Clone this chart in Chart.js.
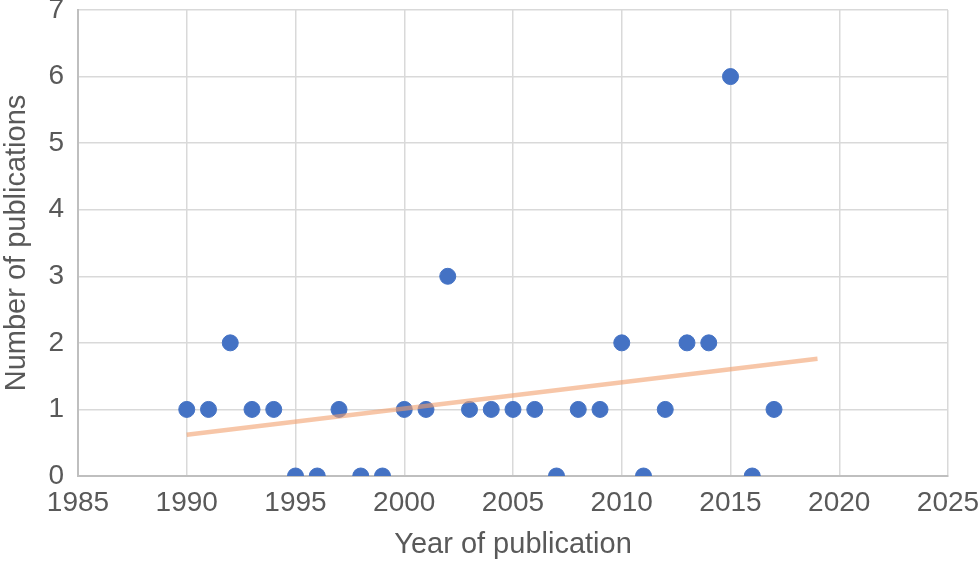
<!DOCTYPE html>
<html>
<head>
<meta charset="utf-8">
<script src="https://cdn.jsdelivr.net/npm/chart.js@4"></script>
<style>
    html, body { margin: 0; padding: 0; background: #ffffff; }
    #wrap { width: 980px; height: 562px; position: relative; }
</style>
</head>
<body>
<div id="wrap"><canvas id="pubChart" width="980" height="562"></canvas></div>
<script>
// Publications per year
const years = [1990, 1991, 1992, 1993, 1994, 1995, 1996, 1997, 1998, 1999,
    2000, 2001, 2002, 2003, 2004, 2005, 2006, 2007, 2008, 2009,
    2010, 2011, 2012, 2013, 2014, 2015, 2016, 2017];
const publications = [1, 1, 2, 1, 1, 0, 0, 1, 0, 0,
    1, 1, 3, 1, 1, 1, 1, 0, 1, 1,
    2, 0, 1, 2, 2, 6, 0, 1];

// Linear trend line end points
const trendYears = [1990, 2019];
const trendValues = [0.62, 1.76];

const fontFamily = '"Liberation Sans", Arial, sans-serif';
const textColor = '#595959';

const ctx = document.getElementById('pubChart');

new Chart(ctx, {
    type: 'scatter',
    data: {
        datasets: [
            {
                label: 'Trend',
                type: 'line',
                data: trendYears.map((x, i) => ({ x: x, y: trendValues[i] })),
                borderColor: 'rgba(241, 160, 110, 0.6)',
                borderWidth: 4.5,
                pointRadius: 0,
                fill: false,
                order: 0
            },
            {
                label: 'Publications',
                data: years.map((x, i) => ({ x: x, y: publications[i] })),
                backgroundColor: '#4472C4',
                borderColor: '#4472C4',
                pointRadius: 8,
                pointHoverRadius: 8,
                order: 1
            }
        ]
    },
    options: {
        responsive: false,
        animation: false,
        layout: {
            padding: { top: 10, right: 32, bottom: 0, left: 0 }
        },
        plugins: {
            legend: { display: false },
            tooltip: { enabled: false }
        },
        scales: {
            x: {
                type: 'linear',
                min: 1985,
                max: 2025,
                ticks: {
                    stepSize: 5,
                    color: textColor,
                    padding: 10,
                    font: { size: 28, family: fontFamily },
                    callback: v => String(v)
                },
                grid: { color: '#d9d9d9', lineWidth: 1.5, drawTicks: false },
                border: { color: '#bfbfbf', width: 2 },
                title: {
                    display: true,
                    text: 'Year of publication',
                    color: textColor,
                    font: { size: 29, family: fontFamily },
                    padding: { top: 0, bottom: 0 }
                },
                afterFit: scale => {
                    scale.height = 86;
                    scale.paddingLeft = 0;
                    scale.paddingRight = 0;
                }
            },
            y: {
                min: 0,
                max: 7,
                ticks: {
                    stepSize: 1,
                    color: textColor,
                    padding: 14,
                    font: { size: 28, family: fontFamily }
                },
                grid: { color: '#d9d9d9', lineWidth: 1.5, drawTicks: false },
                border: { color: '#bfbfbf', width: 2 },
                title: {
                    display: true,
                    text: 'Number of publications',
                    color: textColor,
                    font: { size: 29, family: fontFamily },
                    padding: { top: 0, bottom: 2 }
                },
                afterFit: scale => {
                    scale.width = 78;
                    scale.paddingTop = 0;
                    scale.paddingBottom = 0;
                }
            }
        }
    }
});
</script>
</body>
</html>
